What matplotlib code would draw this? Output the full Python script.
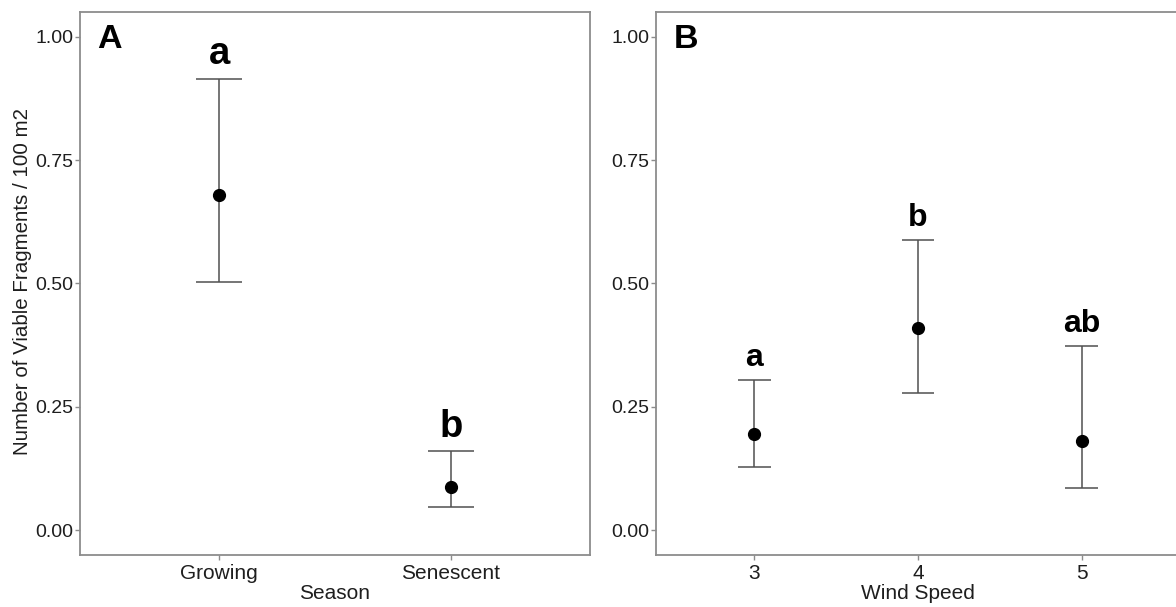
import matplotlib
matplotlib.use("Agg")
import matplotlib.pyplot as plt
import numpy as np

plt.rcParams['font.family'] = ['Liberation Sans', 'DejaVu Sans']

# panel A: season
season = ["Growing", "Senescent"]
season_mean = [0.680, 0.087]
season_lo = [0.504, 0.047]
season_hi = [0.915, 0.160]
season_grp = ["a", "b"]

# panel B: wind speed
wind = ["3", "4", "5"]
wind_mean = [0.196, 0.409, 0.180]
wind_lo = [0.128, 0.279, 0.085]
wind_hi = [0.304, 0.589, 0.373]
wind_grp = ["a", "b", "ab"]

yticks = [0.00, 0.25, 0.50, 0.75, 1.00]

spine_col = "#8c8c8c"
text_col = "#1e1e1e"
bar_col = "#505050"

fig = plt.figure(figsize=(11.76, 6.07), dpi=100)
axA = fig.add_axes([80/1176, 52/607, 510/1176, 543/607])
axB = fig.add_axes([656/1176, 52/607, 524/1176, 543/607])


def panel(ax, cats, mean, lo, hi, grp, xlabel, tag, grp_size, grp_off):
    x = np.arange(len(cats))
    mean = np.array(mean)
    lo = np.array(lo)
    hi = np.array(hi)
    ax.errorbar(x, mean, yerr=[mean - lo, hi - mean], fmt="none",
                ecolor=bar_col, elinewidth=1.1, capsize=0, zorder=2)
    # caps of width 0.2 (data units)
    ax.hlines(lo, x - 0.1, x + 0.1, colors=bar_col, lw=1.1, zorder=2)
    ax.hlines(hi, x - 0.1, x + 0.1, colors=bar_col, lw=1.1, zorder=2)
    ax.plot(x, mean, "o", color="black", ms=8.5, zorder=3)
    for xi, h, g in zip(x, hi, grp):
        ax.text(xi, h + grp_off, g, ha="center", va="baseline",
                fontsize=grp_size, fontweight="bold", color="black")
    ax.text(0.033, 0.934, tag, transform=ax.transAxes, ha="left",
            va="baseline", fontsize=24.5, fontweight="bold", color="black")

    ax.set_xlim(-0.6, len(cats) - 1 + 0.6)
    ax.set_ylim(-0.05, 1.05)
    ax.set_xticks(x, cats)
    ax.set_yticks(yticks, [f"{v:.2f}" for v in yticks])
    ax.set_xlabel(xlabel, fontsize=15, color=text_col, labelpad=1)
    for s in ax.spines.values():
        s.set_color(spine_col)
        s.set_linewidth(1.3)
    ax.tick_params(axis="both", colors=spine_col, labelcolor=text_col,
                   length=3.5, width=1.0)
    ax.tick_params(axis="y", pad=1.5, labelsize=14)
    ax.tick_params(axis="x", pad=3, labelsize=15)


panel(axA, season, season_mean, season_lo, season_hi, season_grp,
      "Season", "A", 27.5, 0.03)
panel(axB, wind, wind_mean, wind_lo, wind_hi, wind_grp,
      "Wind Speed", "B", 23, 0.028)

axA.set_ylabel("Number of Viable Fragments / 100 m2", fontsize=14.8,
               color=text_col)
axA.yaxis.set_label_coords(-0.095, 0.503)

fig.savefig("out.png", dpi=100)
